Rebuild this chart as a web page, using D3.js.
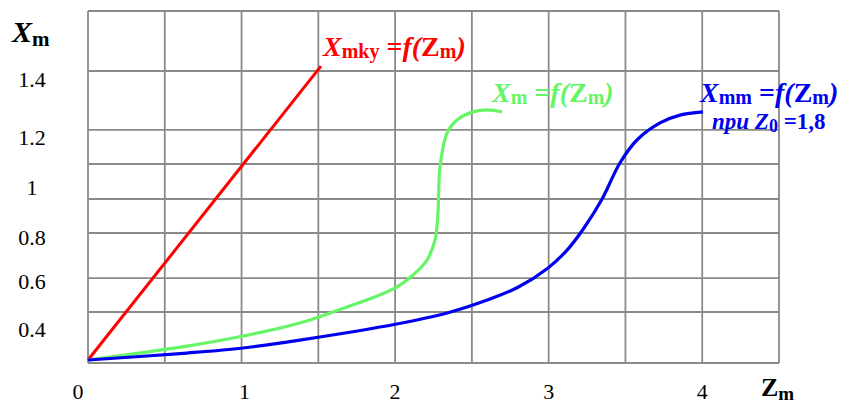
<!DOCTYPE html>
<html><head><meta charset="utf-8">
<script src="https://cdn.jsdelivr.net/npm/d3@7"></script>
<style>body{margin:0;background:#fff}svg{display:block}</style>
</head><body><svg id="c" width="848" height="403"></svg>
<script>
// ---- data ----
const xTicks = [0, 1, 2, 3, 4];
const yTicks = [0.4, 0.6, 0.8, 1, 1.2, 1.4];
const xGrid = [0, 0.5, 1, 1.5, 2, 2.5, 3, 3.5, 4, 4.5];
const yGrid = [0.2625, 0.475, 0.618, 0.82, 0.956, 1.096, 1.228, 1.431, 1.638];

const redZ = [0, 1.517];
const redX = [0.275, 1.448];

const greenZ = [0, 0.645, 1.01, 1.38, 1.687, 1.90, 2.01, 2.117, 2.208, 2.26, 2.279, 2.286, 2.292, 2.338, 2.403, 2.507, 2.598, 2.696];
const greenX = [0.275, 0.333, 0.375, 0.429, 0.496, 0.546, 0.579, 0.632, 0.70, 0.791, 0.90, 1.032, 1.084, 1.217, 1.262, 1.29, 1.297, 1.29];

const blueZ = [0, 0.645, 1.01, 1.38, 2.01, 2.338, 2.60, 2.80, 2.996, 3.12, 3.23, 3.347, 3.464, 3.575, 3.725, 3.855, 4.005];
const blueX = [0.275, 0.304, 0.325, 0.358, 0.425, 0.471, 0.525, 0.578, 0.664, 0.745, 0.84, 0.955, 1.10, 1.192, 1.252, 1.279, 1.29];

// ---- scales ----
const svg = d3.select("#c");
const x = d3.scaleLinear().domain([0, 4.5]).range([88, 779]);
const y = d3.scaleLinear().domain([0.4, 0.6, 0.8, 1, 1.2, 1.4]).range([330, 282, 238, 188, 138, 80]);
const FONT = "'Liberation Serif','Times New Roman',serif";

// ---- grid ----
const yTop = y(d3.max(yGrid)), yBot = y(d3.min(yGrid));
svg.append("g").selectAll("line").data(xGrid).join("line")
  .attr("x1", d => x(d)).attr("x2", d => x(d))
  .attr("y1", yTop).attr("y2", yBot)
  .attr("stroke", "#8a8a8a").attr("stroke-width", 1.8);
svg.append("g").selectAll("line").data(yGrid).join("line")
  .attr("x1", x(0)).attr("x2", x(4.5))
  .attr("y1", d => y(d)).attr("y2", d => y(d))
  .attr("stroke", "#8a8a8a").attr("stroke-width", 1.8);

// ---- tick labels ----
svg.append("g").selectAll("text").data(yTicks).join("text")
  .attr("x", 32).attr("y", d => y(d) + 7)
  .attr("text-anchor", "middle").attr("font-family", FONT).attr("font-size", 22)
  .text(d => d3.format("")(d));
svg.append("g").selectAll("text").data(xTicks).join("text")
  .attr("x", d => d === 0 ? x(d) - 10 : x(d) + (d === 1 ? 3 : 0)).attr("y", 399)
  .attr("text-anchor", "middle").attr("font-family", FONT).attr("font-size", 22)
  .text(d => d);

// ---- curves ----
function series(zs, xs) { return zs.map((z, i) => [z, xs[i]]); }
const straight = d3.line().x(d => x(d[0])).y(d => y(d[1]));
const smooth = d3.line().x(d => x(d[0])).y(d => y(d[1])).curve(d3.curveCatmullRom.alpha(0.5));
svg.append("path").datum(series(redZ, redX))
  .attr("d", straight).attr("fill", "none")
  .attr("stroke", "#ff0000").attr("stroke-width", 3);
svg.append("path").datum(series(greenZ, greenX))
  .attr("d", smooth)
  .attr("fill", "none").attr("stroke", "#66f566").attr("stroke-width", 3.2);
svg.append("path").datum(series(blueZ, blueX))
  .attr("d", smooth)
  .attr("fill", "none").attr("stroke", "#0000ee").attr("stroke-width", 3.2);

// ---- rich text helper ----
function rich(px, py, parts, color, size, subSize, shift) {
  const sh = shift || 4;
  const t = svg.append("text").attr("x", px).attr("y", py)
    .attr("font-family", FONT).attr("fill", color).attr("font-weight", "bold")
    .attr("font-size", size);
  let lowered = false;
  parts.forEach(p => {
    const s = t.append("tspan").text(p.t);
    if (p.i) s.attr("font-style", "italic");
    if (p.sub) {
      s.attr("font-size", subSize);
      if (!lowered) { s.attr("dy", sh); lowered = true; }
    } else if (lowered) { s.attr("dy", -sh); lowered = false; }
  });
  return t;
}

// axis titles
rich(12, 42, [{t: "X", i: 1}, {t: "m", sub: 1}], "#000", 30, 21);
rich(761, 396, [{t: "Z"}, {t: "m", sub: 1}], "#000", 26, 19);

// curve labels
rich(323, 56, [{t: "X", i: 1}, {t: "mky", sub: 1}, {t: " ="}, {t: "f(", i: 1}, {t: "Z"}, {t: "m", sub: 1}, {t: ")", i: 1}], "#ff0000", 28, 20, 2);
rich(492, 102, [{t: "X", i: 1}, {t: "m", sub: 1}, {t: " ="}, {t: "f(", i: 1}, {t: "Z"}, {t: "m", sub: 1}, {t: ")", i: 1}], "#66f566", 28, 20, 2);
rich(700, 102, [{t: "X", i: 1}, {t: "mm", sub: 1}, {t: " ="}, {t: "f(", i: 1}, {t: "Z"}, {t: "m", sub: 1}, {t: ")", i: 1}], "#0000ee", 28, 20, 2);
rich(712, 129, [{t: "npu Z", i: 1}, {t: "0", sub: 1}, {t: " =1,8"}], "#0000ee", 23, 18, 3);
</script>
</body></html>
